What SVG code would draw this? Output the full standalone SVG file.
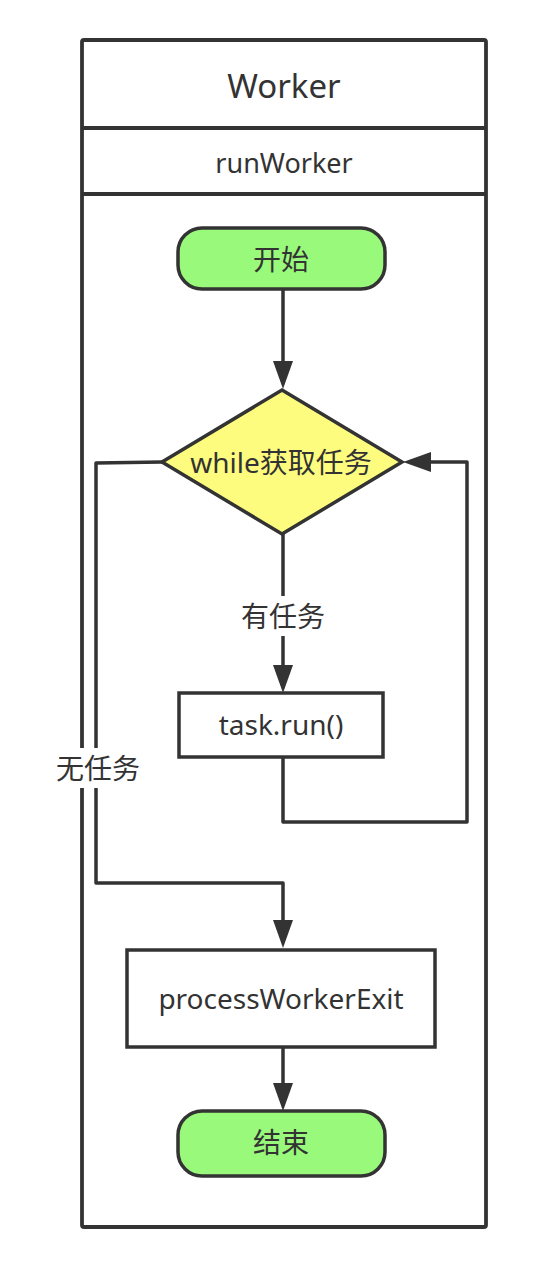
<svg xmlns="http://www.w3.org/2000/svg" width="552" height="1268" viewBox="0 0 552 1268">
<style>
  .ln{fill:none;stroke:#333;stroke-width:3.5;stroke-linejoin:round}
  .frame{fill:#fff;stroke:#333;stroke-width:3.8;stroke-linejoin:round}
  .box{fill:#fff;stroke:#333;stroke-width:3.5}
  .term{fill:#98f97a;stroke:#333;stroke-width:3.5}
  .dec{fill:#fdfc7e;stroke:#333;stroke-width:3.5;stroke-linejoin:miter}
  text{font-family:"Noto Sans","Noto Sans CJK SC",sans-serif;fill:#333;text-anchor:middle;dominant-baseline:central;font-size:28px}
  .title{font-size:33px}
  .sub{font-size:27px}
  .lblbg{fill:#fff;stroke:none}
</style>
<defs>
  <marker id="arr" markerUnits="userSpaceOnUse" markerWidth="28" markerHeight="20" refX="0" refY="10" orient="auto" viewBox="0 0 28 20">
    <path d="M0,0 L28,10 L0,20 z" fill="#333"/>
  </marker>
</defs>
<rect width="552" height="1268" fill="#fff"/>
<g id="lane">
  <rect class="frame" x="82" y="40" width="404" height="1187" rx="2"/>
  <line class="ln" x1="82" y1="128" x2="486" y2="128" style="stroke-width:3.8"/>
  <line class="ln" x1="82" y1="194" x2="486" y2="194" style="stroke-width:3.8"/>
  <text class="title" x="284" y="85">Worker</text>
  <text class="sub" x="284" y="162">runWorker</text>
</g>
<g id="connectors">
  <path class="ln" d="M283,289 V361" marker-end="url(#arr)"/>
  <path class="ln" d="M283,534 V665" marker-end="url(#arr)"/>
  <path class="ln" d="M283,757 V822 H467 V462 H431" marker-end="url(#arr)"/>
  <path class="ln" d="M162,462 L96,463 V883 H283 V920" marker-end="url(#arr)"/>
  <path class="ln" d="M283,1047 V1083" marker-end="url(#arr)"/>
  <rect class="lblbg" x="236" y="596" width="94" height="40"/>
  <text x="283" y="616">有任务</text>
  <rect class="lblbg" x="54" y="748" width="89" height="40"/>
  <text x="98" y="768">无任务</text>
</g>
<g id="start">
  <rect class="term" x="178" y="228" width="207" height="61" rx="24"/>
  <text x="281" y="259">开始</text>
</g>
<g id="decision">
  <polygon class="dec" points="282,390 402,462 282,534 162,462"/>
  <text x="281" y="462">while获取任务</text>
</g>
<g id="task">
  <rect class="box" x="179" y="693" width="204" height="64"/>
  <text x="281" y="724">task.run()</text>
</g>
<g id="exit">
  <rect class="box" x="127" y="950" width="308" height="97"/>
  <text x="281" y="998">processWorkerExit</text>
</g>
<g id="end">
  <rect class="term" x="178" y="1111" width="207" height="65" rx="24"/>
  <text x="281" y="1142">结束</text>
</g>
</svg>
